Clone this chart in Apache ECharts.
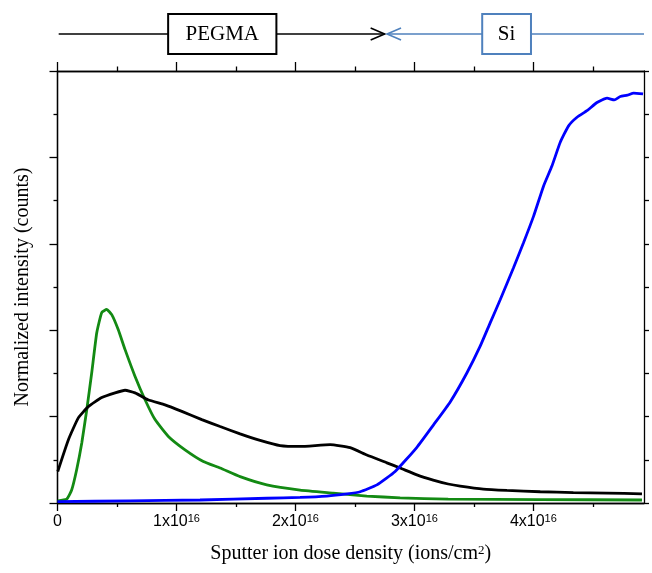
<!DOCTYPE html>
<html>
<head>
<meta charset="utf-8">
<script src="https://cdn.jsdelivr.net/npm/echarts@6/dist/echarts.min.js"></script>
<style>html,body{margin:0;padding:0;background:#fff}#c{width:652px;height:573px}</style>
</head>
<body>
<div id="c"></div>
<script>
// x in units of 1e16 ions/cm^2, y in minor-tick units (normalized intensity)
const blackSeries = [
  [0.002,0.73],[0.091,1.46],[0.175,1.97],[0.259,2.23],[0.372,2.44],[0.484,2.55],[0.568,2.61],
  [0.652,2.55],[0.761,2.39],[0.904,2.27],[1.045,2.12],[1.213,1.93],[1.367,1.77],[1.535,1.60],
  [1.703,1.45],[1.871,1.33],[2.039,1.31],[2.292,1.35],[2.460,1.28],[2.600,1.11],[2.769,0.93],
  [2.880,0.81],[3.021,0.65],[3.158,0.53],[3.284,0.44],[3.385,0.39],[3.579,0.32],[3.778,0.29],
  [4.058,0.26],[4.336,0.24],[4.619,0.23],[4.913,0.21]
];
const greenSeries = [
  [0.002,0.05],[0.077,0.09],[0.119,0.30],[0.161,0.77],[0.204,1.39],[0.246,2.16],[0.288,3.02],
  [0.330,3.94],[0.372,4.41],[0.414,4.48],[0.456,4.36],[0.511,4.01],[0.568,3.55],[0.652,2.93],
  [0.736,2.39],[0.820,1.93],[0.932,1.54],[1.072,1.23],[1.226,0.96],[1.367,0.81],[1.535,0.61],
  [1.759,0.42],[2.039,0.30],[2.317,0.23],[2.600,0.16],[2.880,0.12],[3.284,0.09],[4.060,0.08],
  [4.913,0.07]
];
const blueSeries = [
  [0.000,0.03],[0.610,0.05],[1.198,0.07],[1.759,0.11],[2.039,0.13],[2.264,0.16],[2.432,0.21],
  [2.544,0.26],[2.685,0.42],[2.838,0.73],[3.021,1.29],[3.161,1.81],[3.301,2.34],[3.441,3.01],
  [3.553,3.63],[3.637,4.17],[3.722,4.71],[3.834,5.45],[3.918,6.03],[4.002,6.64],[4.086,7.34],
  [4.156,7.80],[4.226,8.35],[4.296,8.73],[4.367,8.93],[4.451,9.08],[4.535,9.27],
  [4.619,9.37],[4.680,9.33],[4.731,9.41],[4.790,9.44],[4.843,9.49],[4.922,9.47]
];
const xMajorTicks = [0,1,2,3,4];
const xMinorTicks = [0.5,1.5,2.5,3.5,4.5];
const yMajorTicks = [0,2,4,6,8,10];
const yMinorTicks = [1,3,5,7,9];
const yAllTicks = [0,1,2,3,4,5,6,7,8,9,10];
const xLabelExponent = '16';
const xName = 'Sputter ion dose density (ions/cm{s|2})';
const yName = 'Normalized intensity (counts)';
const annotations = [
  {label:'PEGMA', color:'#000000', boxFrom:0.93, boxTo:1.84, lineFrom:0.01, lineTo:2.75, dir:1},
  {label:'Si', color:'#4f81bd', boxFrom:3.57, boxTo:3.98, lineFrom:4.93, lineTo:2.77, dir:-1}
];

const serif = "'Liberation Serif','Times New Roman',serif";
const sans = "'Liberation Sans',Arial,sans-serif";
const X_MAX = 4.93, Y_MAX = 10;
const lineStyle = {color:'#000', width:1.3};

function xAxisDef(pos, ticks, len, labels) {
  return {
    type:'value', position:pos, min:0, max:X_MAX,
    axisLine:{show:true, lineStyle:lineStyle, onZero:false},
    axisTick:{show:true, inside:false, length:len, customValues:ticks, lineStyle:lineStyle},
    axisLabel: labels ? {
      show:true, customValues:xMajorTicks, margin:10, color:'#000', fontFamily:sans, fontSize:16,
      formatter: v => v === 0 ? '{b|0}' : '{b|' + v + 'x10}{s|' + xLabelExponent + '}',
      rich:{ b:{fontSize:16, fontFamily:sans, color:'#000', lineHeight:18},
             s:{fontSize:11, fontFamily:sans, color:'#000', verticalAlign:'top', lineHeight:10} }
    } : {show:false},
    splitLine:{show:false}
  };
}
function yAxisDef(pos, ticks, len) {
  return {
    type:'value', position:pos, min:0, max:Y_MAX,
    axisLine:{show:true, lineStyle:lineStyle, onZero:false},
    axisTick:{show:true, inside:false, length:len, customValues:ticks, lineStyle:lineStyle},
    axisLabel:{show:false}, splitLine:{show:false}
  };
}

const chart = echarts.init(document.getElementById('c'), null, {renderer:'canvas'});
const xAxes = [
  Object.assign(xAxisDef('bottom', xMajorTicks, 8, true), {
    name:xName, nameLocation:'middle', nameGap:41,
    nameTextStyle:{fontFamily:serif, fontSize:20, color:'#000',
      rich:{s:{fontFamily:serif, fontSize:13, color:'#000', verticalAlign:'top', lineHeight:10}}}
  }),
  xAxisDef('bottom', xMinorTicks, 4, false),
  xAxisDef('top', xMajorTicks, 9, false),
  xAxisDef('top', xMinorTicks, 4.5, false)
];
const yAxes = [
  Object.assign(yAxisDef('left', yMajorTicks, 8), {
    name:yName, nameLocation:'middle', nameGap:25, nameRotate:90,
    nameTextStyle:{fontFamily:serif, fontSize:20, color:'#000'}
  }),
  yAxisDef('left', yMinorTicks, 4),
  yAxisDef('right', yAllTicks, 5)
];
function lineSeries(data, color) {
  return {type:'line', data:data, xAxisIndex:0, yAxisIndex:0, showSymbol:false, symbol:'none',
          smooth:0.15, lineStyle:{color:color, width:2.8}, silent:true, animation:false};
}
chart.setOption({
  animation:false,
  backgroundColor:'#fff',
  grid:{left:57.5, right:8, top:71, bottom:70, containLabel:false},
  xAxis:xAxes, yAxis:yAxes,
  series:[
    lineSeries(greenSeries, '#138a13'),
    lineSeries(blackSeries, '#000000'),
    lineSeries(blueSeries, '#0000ff')
  ]
});

// annotation strip above the plot, positioned from x-axis values
const yLine = 34, boxTop = 14, boxH = 40;
const els = [];
annotations.forEach(a => {
  const p = v => chart.convertToPixel({xAxisIndex:0}, v);
  const bx0 = p(a.boxFrom), bx1 = p(a.boxTo), l0 = p(a.lineFrom), l1 = p(a.lineTo);
  const st = {stroke:a.color, lineWidth:1.6, fill:null};
  els.push({type:'line', shape:{x1:l0, y1:yLine, x2:l1, y2:yLine}, style:st, z:10});
  els.push({type:'polyline', shape:{points:[[l1 - a.dir*14, yLine-6],[l1, yLine],[l1 - a.dir*14, yLine+6]]},
            style:{stroke:a.color, lineWidth:1.6, fill:null}, z:11});
  els.push({type:'rect', shape:{x:bx0, y:boxTop, width:bx1-bx0, height:boxH},
            style:{fill:'#fff', stroke:a.color, lineWidth:2}, z:12});
  els.push({type:'text', x:(bx0+bx1)/2, y:boxTop+boxH/2,
            style:{text:a.label, fill:'#000', font:"21px 'Liberation Serif','Times New Roman',serif",
                   align:'center', verticalAlign:'middle'}, z:13});
});
chart.setOption({graphic:{elements:els}});
</script>
</body>
</html>
